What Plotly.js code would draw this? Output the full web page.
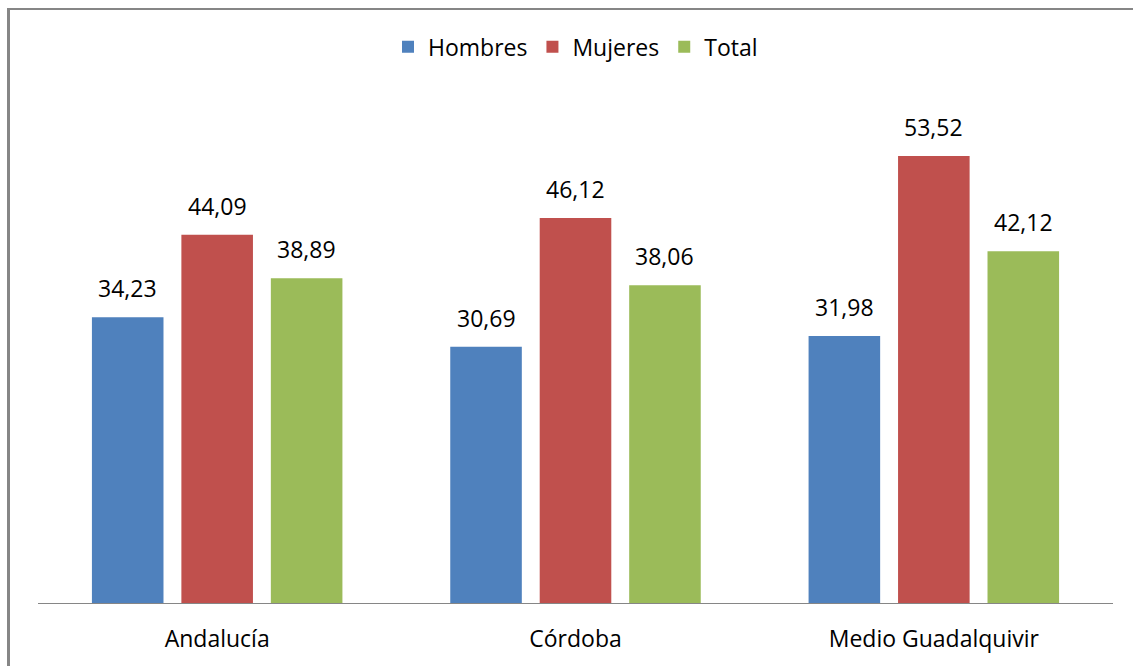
<!DOCTYPE html>
<html>
<head>
<meta charset="utf-8">
<script src="https://cdn.plot.ly/plotly-3.0.1.min.js"></script>
<style>
  html, body { margin: 0; padding: 0; background: #fff; }
  #wrap { position: relative; width: 1133px; height: 666px; }
  #chart { width: 1133px; height: 666px; }
  #frame { position: absolute; left: 7px; top: 8px; right: 0; bottom: 0;
           border-left: 3px solid #868686; border-top: 2px solid #868686; pointer-events: none; }
</style>
</head>
<body>
<div id="wrap">
  <div id="chart"></div>
  <div id="frame"></div>
</div>
<script>
const categories = ["Andalucía", "Córdoba", "Medio Guadalquivir"];
const seriesNames = ["Hombres", "Mujeres", "Total"];
const hombres = [34.23, 30.69, 31.98];
const mujeres = [44.09, 46.12, 53.52];
const total = [38.89, 38.06, 42.12];
const colors = ["#4F81BD", "#C0504D", "#9BBB59"];

const seriesValues = [hombres, mujeres, total];
const FONT = "Open Sans, Noto Sans, sans-serif";
const bargap = 0.251;
const slot = (1 - bargap) / seriesValues.length;

const traces = seriesValues.map((vals, i) => ({
  type: "bar",
  name: seriesNames[i],
  x: categories,
  y: vals,
  marker: { color: colors[i] },
  hoverinfo: "skip"
}));

const annotations = [];
seriesValues.forEach((vals, i) => {
  const off = (i - (seriesValues.length - 1) / 2) * slot;
  vals.forEach((v, j) => {
    annotations.push({
      x: j + off, y: v, xref: "x", yref: "y",
      text: v.toFixed(2).replace(".", ","),
      showarrow: false, yanchor: "bottom", yshift: 11,
      font: { family: FONT, size: 23, color: "#000" }
    });
  });
});

const layout = {
  width: 1133, height: 666,
  margin: { l: 38, r: 20, t: 102, b: 63 },
  paper_bgcolor: "#fff", plot_bgcolor: "#fff",
  barmode: "group",
  bargap: bargap,
  bargroupgap: 0.2,
  showlegend: true,
  legend: {
    orientation: "h", x: 0.5, xanchor: "center", y: 1.11, yanchor: "middle",
    font: { family: FONT, size: 23, color: "#000" },
    itemwidth: 30, traceorder: "normal"
  },
  xaxis: {
    type: "category",
    showline: true, linecolor: "#868686", linewidth: 1,
    ticks: "", showgrid: false,
    tickfont: { family: FONT, size: 23, color: "#000" },
    ticklabelstandoff: 15
  },
  yaxis: {
    range: [0, 60], visible: false, showgrid: false, zeroline: false
  },
  annotations: annotations
};

Plotly.newPlot("chart", traces, layout, { displayModeBar: false, staticPlot: true });
</script>
</body>
</html>
